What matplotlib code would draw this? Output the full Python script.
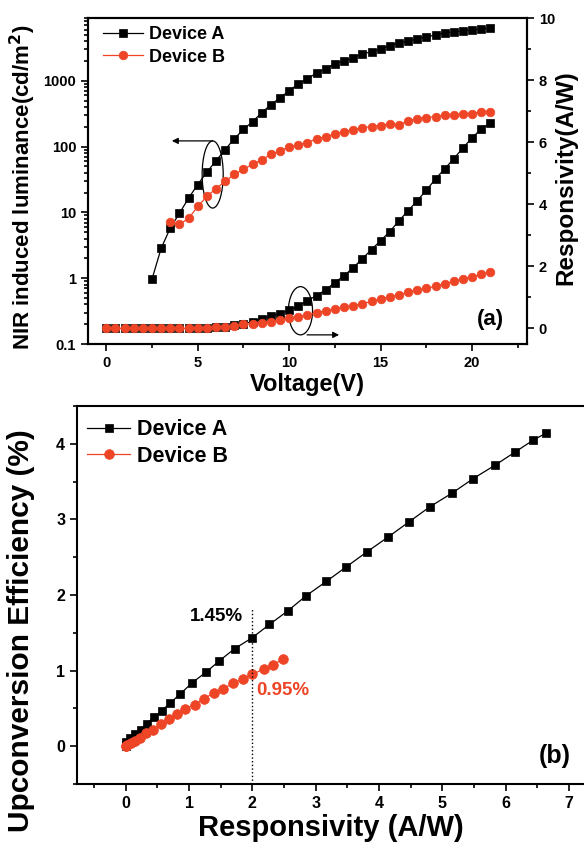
#!/usr/bin/env python3
"""
Upconversion device comparison: (a) luminance / responsivity vs voltage,
(b) upconversion efficiency vs responsivity.
"""

import matplotlib
matplotlib.use('Agg')
import matplotlib.pyplot as plt
from matplotlib.patches import Ellipse
from matplotlib.ticker import MultipleLocator, LogLocator, FuncFormatter, NullFormatter
import numpy as np

plt.rcParams['font.family'] = ['Liberation Sans', 'DejaVu Sans']
plt.rcParams['font.weight'] = 'bold'
plt.rcParams['axes.labelweight'] = 'bold'

RED = '#EF4527'

# ---- panel (a) data ----
voltage = np.arange(0, 21.01, 0.5)

lum_a_voltage = voltage[voltage >= 2.5]
lum_a = [0.97, 2.85, 5.8, 9.7, 16.5, 26.5, 41, 61, 90, 132,
         182, 240, 328, 433, 552, 706, 900, 1070, 1320, 1520,
         1820, 2000, 2230, 2560, 2760, 3050, 3380, 3760, 4030, 4330,
         4650, 4980, 5340, 5530, 5730, 5930, 6140, 6360]

lum_b_voltage = voltage[voltage >= 3.5]
lum_b = [7.1, 6.6, 8.1, 12.3, 17.5, 23, 29.6, 38, 45, 54,
         63, 76, 87, 98, 107, 115, 132, 141, 157, 169,
         181, 194, 201, 208, 224, 212, 247, 265, 275, 285,
         306, 298, 316, 318, 339, 340]

resp_a = [0, 0, 0, 0, 0, 0, 0, 0, 0, 0,
          0.01, 0.02, 0.04, 0.06, 0.10, 0.16, 0.22, 0.32, 0.39, 0.48,
          0.58, 0.72, 0.90, 1.06, 1.25, 1.48, 1.70, 1.96, 2.25, 2.54,
          2.83, 3.12, 3.47, 3.79, 4.12, 4.45, 4.82, 5.14, 5.47, 5.82,
          6.14, 6.43, 6.62]

resp_b = [0, 0, 0, 0, 0, 0, 0, 0, 0, 0,
          0.01, 0.02, 0.04, 0.06, 0.09, 0.13, 0.15, 0.18, 0.22, 0.27,
          0.33, 0.38, 0.44, 0.50, 0.57, 0.63, 0.69, 0.74, 0.80, 0.87,
          0.94, 1.02, 1.09, 1.16, 1.23, 1.29, 1.36, 1.44, 1.52, 1.59,
          1.66, 1.74, 1.82]

# ---- panel (b) data ----
eff_resp_a = [0, 0, 0, 0.01, 0.07, 0.15, 0.24, 0.33, 0.44, 0.57, 0.70,
              0.86, 1.05, 1.27, 1.48, 1.72, 1.99, 2.27, 2.56, 2.85, 3.17,
              3.48, 3.81, 4.15, 4.48, 4.81, 5.16, 5.49, 5.84, 6.15, 6.44, 6.64]
eff_a = [0, 0.01, 0.01, 0.05, 0.11, 0.16, 0.22, 0.30, 0.38, 0.47, 0.57,
         0.69, 0.84, 0.98, 1.13, 1.29, 1.43, 1.61, 1.79, 1.99, 2.18,
         2.37, 2.57, 2.77, 2.97, 3.17, 3.35, 3.54, 3.72, 3.89, 4.05, 4.14]

eff_resp_b = [0, 0, 0.02, 0.08, 0.15, 0.23, 0.32, 0.43, 0.55, 0.68, 0.81,
              0.94, 1.09, 1.23, 1.39, 1.54, 1.69, 1.85, 2.00, 2.18, 2.33, 2.49]
eff_b = [0, 0, 0.01, 0.04, 0.07, 0.11, 0.17, 0.22, 0.29, 0.36, 0.42,
         0.49, 0.55, 0.63, 0.70, 0.76, 0.83, 0.89, 0.95, 1.02, 1.08, 1.15]

ref_resp = 2.0
ref_eff_a = 1.45
ref_eff_b = 0.95


def style_ticks(ax, size):
    ax.tick_params(which='both', direction='out', width=1.2, labelsize=size)
    ax.tick_params(which='major', length=5)
    ax.tick_params(which='minor', length=3)
    for sp in ax.spines.values():
        sp.set_linewidth(1.5)


def plot_panel_a(fig):
    ax = fig.add_axes([88 / 584, 1 - 344 / 848, 439 / 584, 326 / 848])
    ax_r = ax.twinx()

    sq = dict(marker='s', color='black', ms=5.2, mew=0.5, lw=0.9)
    ci = dict(marker='o', color=RED, ms=6.2, mew=0.5, lw=0.9)
    ax.plot(lum_a_voltage, lum_a, label='Device A', **sq)
    ax.plot(lum_b_voltage, lum_b, label='Device B', **ci)
    ax_r.plot(voltage, resp_a, **sq)
    ax_r.plot(voltage, resp_b, **ci)

    ax.set_yscale('log')
    ax.set_ylim(0.1, 9000)
    ax.set_xlim(-1, 23)
    ax.yaxis.set_major_locator(LogLocator(base=10))
    ax.yaxis.set_minor_locator(LogLocator(base=10, subs=np.arange(2, 10)))
    ax.yaxis.set_major_formatter(FuncFormatter(lambda v, p: f'{v:g}'))
    ax.yaxis.set_minor_formatter(NullFormatter())
    ax.xaxis.set_major_locator(MultipleLocator(5))
    ax.xaxis.set_minor_locator(MultipleLocator(2.5))

    ax_r.set_ylim(-0.5, 10)
    ax_r.yaxis.set_major_locator(MultipleLocator(2))
    ax_r.yaxis.set_minor_locator(MultipleLocator(1))

    style_ticks(ax, 10.5)
    style_ticks(ax_r, 10.5)

    ax.set_xlabel('Voltage(V)', fontsize=17, labelpad=2)
    ax.set_ylabel('NIR induced luminance(cd/m$^\\mathbf{2}$)', fontsize=16)
    ax.yaxis.set_label_coords(-0.115, 0.48)
    ax_r.set_ylabel('Responsivity(A/W)', fontsize=17.5)
    ax_r.yaxis.set_label_coords(1.062, 0.51)

    # guide ellipses with arrows pointing at the axis each curve belongs to
    ax.add_patch(Ellipse((0.284, 0.520), 0.048, 0.206, transform=ax.transAxes,
                         fill=False, ec='black', lw=0.9))
    ax.annotate('', xy=(0.191, 0.623), xytext=(0.284, 0.623), xycoords='axes fraction',
                arrowprops=dict(arrowstyle='-|>', color='black', lw=0.9,
                                mutation_scale=9, shrinkA=0, shrinkB=0))
    ax.add_patch(Ellipse((0.484, 0.102), 0.055, 0.148, transform=ax.transAxes,
                         fill=False, ec='black', lw=0.9))
    ax.annotate('', xy=(0.572, 0.028), xytext=(0.499, 0.028), xycoords='axes fraction',
                arrowprops=dict(arrowstyle='-|>', color='black', lw=0.9,
                                mutation_scale=9, shrinkA=0, shrinkB=0))

    ax.text(0.916, 0.074, '(a)', transform=ax.transAxes, fontsize=16,
            ha='center', va='center')

    ax.legend(loc='upper left', bbox_to_anchor=(0.035, 0.975), frameon=False,
              fontsize=13, handlelength=2.2, handletextpad=0.3, labelspacing=0.3,
              borderpad=0, borderaxespad=0)


def plot_panel_b(fig):
    ax = fig.add_axes([77 / 584, 1 - 784 / 848, 507 / 584, 378 / 848])

    ax.plot(eff_resp_a, eff_a, '-s', color='black', ms=5.8, mew=0.5, lw=0.9, label='Device A')
    ax.plot(eff_resp_b, eff_b, '-o', color=RED, ms=7, mew=0.5, lw=0.9, label='Device B')

    ax.set_xlim(-0.77, 7.24)
    ax.set_ylim(-0.5, 4.5)
    ax.xaxis.set_major_locator(MultipleLocator(1))
    ax.xaxis.set_minor_locator(MultipleLocator(0.5))
    ax.yaxis.set_major_locator(MultipleLocator(1))
    ax.yaxis.set_minor_locator(MultipleLocator(0.5))
    ax.spines['right'].set_visible(False)
    style_ticks(ax, 11.5)

    ax.vlines(ref_resp, -0.5, 1.82, colors='black', linestyles=':', lw=1)
    ax.text(ref_resp - 0.14, 1.72, f'{ref_eff_a:.2f}%', fontsize=13.5,
            ha='right', va='center', color='black')
    ax.text(ref_resp + 0.06, 0.74, f'{ref_eff_b:.2f}%', fontsize=13.5,
            ha='left', va='center', color=RED)

    ax.text(6.77, -0.13, '(b)', fontsize=18, ha='center', va='center')

    ax.set_xlabel('Responsivity (A/W)', fontsize=21, labelpad=2)
    ax.set_ylabel('Upconversion Efficiency (%)', fontsize=21.5)
    ax.yaxis.set_label_coords(-0.082, 0.405)

    ax.legend(loc='upper left', bbox_to_anchor=(0.02, 0.965), frameon=False,
              fontsize=15.5, handlelength=2.0, handletextpad=0.3, labelspacing=0.25,
              borderpad=0, borderaxespad=0)


def main():
    fig = plt.figure(figsize=(5.84, 8.48), dpi=100)
    plot_panel_a(fig)
    plot_panel_b(fig)
    fig.savefig('out.png', dpi=100)


if __name__ == '__main__':
    main()
